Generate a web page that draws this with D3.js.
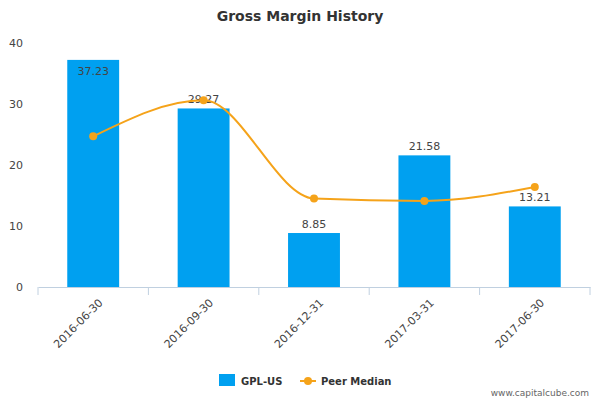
<!DOCTYPE html>
<html><head><meta charset="utf-8">
<script src="https://cdn.jsdelivr.net/npm/d3@7"></script>
<style>body{margin:0;background:#fff;font-family:"DejaVu Sans",Verdana,sans-serif}</style>
</head><body><svg id="c" width="600" height="400"></svg>
<script>
const categories=["2016-06-30","2016-09-30","2016-12-31","2017-03-31","2017-06-30"];
const gplValues=[37.23,29.27,8.85,21.58,13.21];
const peerMedian=[24.7,30.6,14.5,14.1,16.4];
const yTicks=[0,10,20,30,40];

const svg=d3.select("#c");
const m={l:38,r:590,t:43,b:287};
const x=d3.scaleBand().domain(categories).range([m.l,m.r]).paddingInner(0.53).paddingOuter(0.265);
const y=d3.scaleLinear().domain([0,40]).range([m.b,m.t]);

svg.append("text").attr("x",300).attr("y",21).attr("text-anchor","middle")
 .attr("font-size",14).attr("font-weight","bold").attr("fill","#333").text("Gross Margin History");

svg.append("g").selectAll("text").data(yTicks).join("text")
 .attr("x",23).attr("y",d=>y(d)+4).attr("text-anchor","end").attr("font-size",11).attr("fill","#444").text(d=>d);

svg.append("g").selectAll("rect").data(gplValues).join("rect")
 .attr("x",(d,i)=>x(categories[i])).attr("width",x.bandwidth())
 .attr("y",d=>y(d)).attr("height",d=>m.b-y(d)).attr("fill","#00a0f0");

svg.append("g").selectAll("text").data(gplValues).join("text")
 .attr("x",(d,i)=>x(categories[i])+x.bandwidth()/2)
 .attr("y",d=>y(d)>60?y(d)-5:y(d)+15)
 .attr("text-anchor","middle").attr("font-size",11).attr("fill","#444").text(d=>d.toFixed(2));

const ax=d3.axisBottom(x).tickSize(6).tickSizeOuter(0);
const g=svg.append("g").attr("transform",`translate(0,${m.b})`);
g.call(ax);
g.select(".domain").attr("stroke","#c0d0e0");
g.selectAll(".tick line").attr("stroke","#c0d0e0");
// boundary ticks between categories
const bounds=d3.range(categories.length+1).map(i=>m.l+i*(m.r-m.l)/categories.length);
g.selectAll(".tick line").remove();
g.selectAll(".bt").data(bounds).join("line").attr("x1",d=>d).attr("x2",d=>d).attr("y1",0).attr("y2",8).attr("stroke","#c0d0e0");
g.selectAll(".tick text").attr("font-size",11).attr("fill","#444").attr("font-family","DejaVu Sans")
 .attr("text-anchor","end").attr("transform","rotate(-45)").attr("dx","-0.4em").attr("dy","0.9em");

const pts=peerMedian.map((v,i)=>[x(categories[i])+x.bandwidth()/2,y(v)]);
svg.append("path").attr("d",d3.line().curve(d3.curveMonotoneX)(pts)).attr("fill","none").attr("stroke","#f5a31a").attr("stroke-width",2);
svg.append("g").selectAll("circle").data(pts).join("circle").attr("cx",d=>d[0]).attr("cy",d=>d[1]).attr("r",4).attr("fill","#f5a31a");

const lg=svg.append("g");
lg.append("rect").attr("x",219).attr("y",374).attr("width",16).attr("height",12).attr("fill","#00a0f0");
lg.append("text").attr("x",241).attr("y",385).attr("font-size",10).attr("font-weight","bold").attr("fill","#333").text("GPL-US");
lg.append("line").attr("x1",300).attr("x2",316).attr("y1",381).attr("y2",381).attr("stroke","#f5a31a").attr("stroke-width",2);
lg.append("circle").attr("cx",308).attr("cy",381).attr("r",4).attr("fill","#f5a31a");
lg.append("text").attr("x",321).attr("y",385).attr("font-size",10).attr("font-weight","bold").attr("fill","#333").text("Peer Median");
svg.append("text").attr("x",589).attr("y",396).attr("text-anchor","end").attr("font-size",9).attr("fill","#666").text("www.capitalcube.com");
</script></body></html>
